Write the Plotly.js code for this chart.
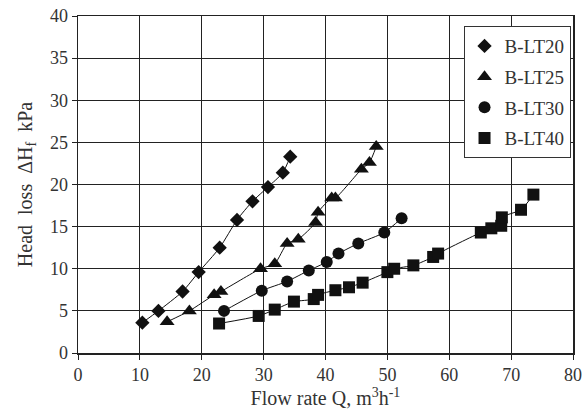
<!DOCTYPE html>
<html>
<head>
<meta charset="utf-8">
<script src="https://cdn.plot.ly/plotly-3.0.1.min.js"></script>
<style>html,body{margin:0;padding:0;background:#fff;}#chart{width:583px;height:417px;}</style>
</head>
<body>
<div id="chart"></div>
<script>
const seriesNames = ["B-LT20", "B-LT25", "B-LT30", "B-LT40"];
const lt20X = [10.4, 13.0, 16.9, 19.5, 22.9, 25.7, 28.2, 30.7, 33.1, 34.3];
const lt20Y = [3.6, 5.0, 7.3, 9.6, 12.5, 15.8, 18.0, 19.7, 21.4, 23.3];
const lt25X = [14.4, 18.0, 22.0, 23.1, 29.5, 31.8, 33.8, 35.6, 38.4, 38.8, 41.0, 41.6, 45.8, 47.1, 48.2];
const lt25Y = [3.7, 5.0, 6.9, 7.3, 10.0, 10.6, 13.0, 13.5, 15.5, 16.7, 18.4, 18.4, 21.8, 22.6, 24.5];
const lt30X = [23.6, 29.7, 33.8, 37.3, 40.2, 42.1, 45.3, 49.5, 52.3];
const lt30Y = [5.0, 7.4, 8.5, 9.8, 10.8, 11.8, 13.0, 14.3, 16.0];
const lt40X = [22.8, 29.2, 31.8, 34.9, 38.1, 38.8, 41.6, 43.8, 46.0, 50.0, 51.1, 54.2, 57.4, 58.2, 65.1, 66.8, 68.4, 68.5, 71.6, 73.6];
const lt40Y = [3.5, 4.4, 5.15, 6.1, 6.4, 6.9, 7.45, 7.8, 8.35, 9.6, 10.0, 10.4, 11.4, 11.8, 14.3, 14.8, 15.1, 16.1, 17.0, 18.8];
const xTicks = [0, 10, 20, 30, 40, 50, 60, 70, 80];
const yTicks = [0, 5, 10, 15, 20, 25, 30, 35, 40];

const symbols = ["diamond", "triangle-up", "circle", "square"];
const sizes = [11, 13, 12, 12];
const xs = [lt20X, lt25X, lt30X, lt40X];
const ys = [lt20Y, lt25Y, lt30Y, lt40Y];

const lineTraces = seriesNames.map((n, i) => ({
  x: xs[i], y: ys[i], name: n + " fit", type: "scatter", mode: "lines",
  showlegend: false, hoverinfo: "skip",
  line: {color: "#111", width: 1, shape: "spline", smoothing: 0.6}
}));
const markerTraces = seriesNames.map((n, i) => ({
  x: xs[i], y: ys[i], name: n, type: "scatter", mode: "markers",
  legendgroup: n,
  marker: {symbol: symbols[i], size: sizes[i], color: "#111"}
}));

const font = "Liberation Serif, Times New Roman, serif";
const layout = {
  width: 583, height: 417,
  margin: {l: 78, r: 10, t: 16, b: 64},
  paper_bgcolor: "#fff", plot_bgcolor: "#fff",
  font: {family: font, size: 18, color: "#333"},
  showlegend: true,
  legend: {x: 0.995, xanchor: "right", y: 0.97, yanchor: "top",
    bordercolor: "#333", borderwidth: 1, bgcolor: "#fff",
    font: {family: font, size: 19, color: "#333"}, tracegroupgap: 3,
    itemwidth: 30},
  xaxis: {range: [0, 80], tickvals: xTicks, ticktext: xTicks.map(String),
    ticklabeloverflow: "allow",
    showgrid: true, gridcolor: "#222", gridwidth: 1,
    showline: true, linecolor: "#222", linewidth: 1.5, mirror: true,
    ticks: "outside", ticklen: 5, tickcolor: "#222", zeroline: false,
    tickfont: {family: font, size: 18, color: "#333"},
    title: {text: "Flow rate Q, m<sup>3</sup>h<sup>-1</sup>", font: {family: font, size: 20, color: "#333"}, standoff: 3}},
  yaxis: {range: [0, 40], tickvals: yTicks, ticktext: yTicks.map(String),
    ticklabeloverflow: "allow",
    showgrid: true, gridcolor: "#222", gridwidth: 1,
    showline: true, linecolor: "#222", linewidth: 1.5, mirror: true,
    ticks: "outside", ticklen: 5, tickcolor: "#222", zeroline: false,
    tickfont: {family: font, size: 18, color: "#333"},
    title: {text: "Head  loss  ΔH<sub>f</sub>  kPa", font: {family: font, size: 20, color: "#333"}, standoff: 12}}
};
Plotly.newPlot("chart", lineTraces.concat(markerTraces), layout, {displayModeBar: false, staticPlot: true});
</script>
</body>
</html>
